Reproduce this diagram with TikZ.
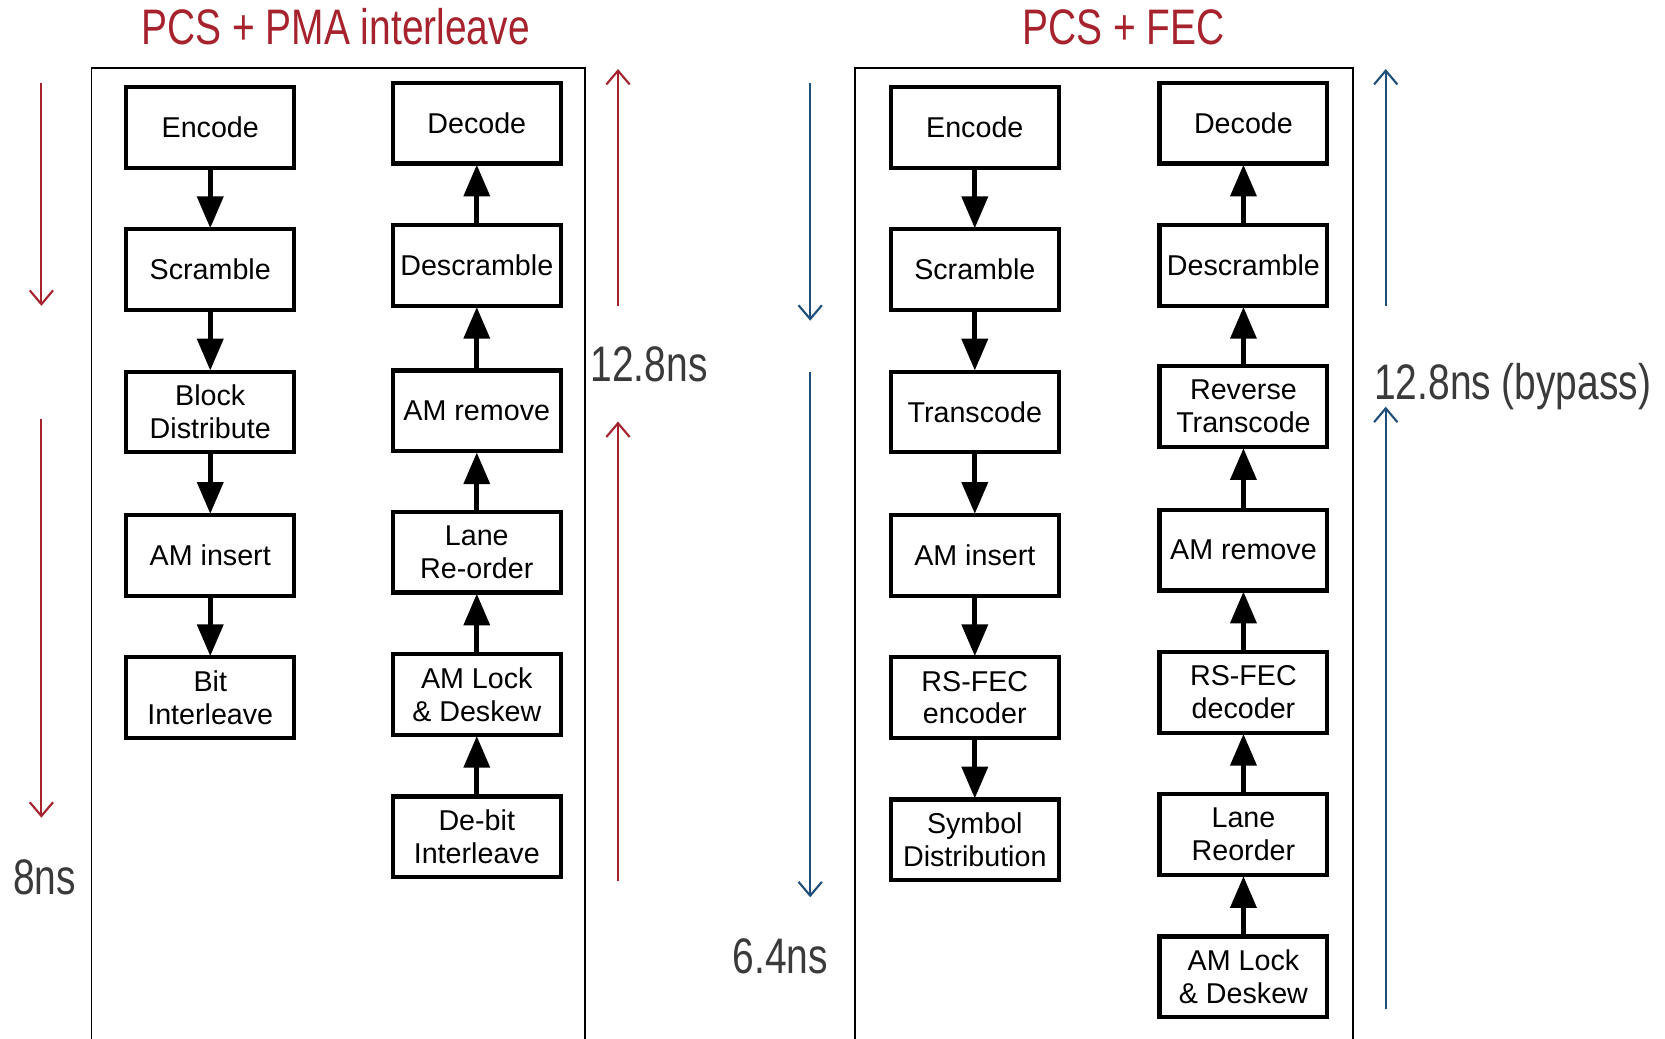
\documentclass[tikz,border=0pt]{standalone}
\usepackage{fontspec}
\setmainfont{Liberation Sans}
\newfontfamily\narrowfont[FakeStretch=0.78]{Liberation Sans}
\usetikzlibrary{arrows.meta}
\definecolor{latred}{RGB}{166,35,46}
\definecolor{latblue}{RGB}{31,78,121}
\definecolor{latgray}{RGB}{58,58,58}
\tikzset{
  blk/.style={draw=black, line width=4pt, fill=white, minimum width=158pt, minimum height=76pt,
    inner sep=0pt, align=center, font=\fontsize{27}{31}\selectfont},
  flow/.style={line width=5pt, -{Triangle[width=24pt,length=30pt]}, shorten >=-1pt},
  lat/.style={line width=2pt, -{Straight Barb[length=13pt,width=22pt,line width=2pt]}},
  ttl/.style={text=latred, inner sep=0pt, anchor=base, font=\narrowfont\fontsize{47}{50}\selectfont},
  lbl/.style={text=latgray, inner sep=0pt, anchor=base, font=\narrowfont\fontsize{47}{50}\selectfont},
  frm/.style={draw=black, line width=1.5pt}
}
\begin{document}
\begin{tikzpicture}[x=1pt, y=-1pt]
\useasboundingbox (0,0) rectangle (1568,978);
% ---------------- titles
\node[ttl] (t1) at (316,42) {PCS + PMA interleave};
\node[ttl] (t2) at (1058,42) {PCS + FEC};
% ---------------- frames
\draw[frm] (86,978) |- (551,64) -- (551,978);
\draw[frm] (805,978) |- (1274,64) -- (1274,978);
% ---------------- left panel, transmit column
\node[blk] (a1) at (198,120) {Encode};
\node[blk] (a2) at (198,254) {Scramble};
\node[blk] (a3) at (198,388) {Block\\Distribute};
\node[blk] (a4) at (198,523) {AM insert};
\node[blk] (a5) at (198,657) {Bit\\Interleave};
\draw[flow] (a1) -- (a2);
\draw[flow] (a2) -- (a3);
\draw[flow] (a3) -- (a4);
\draw[flow] (a4) -- (a5);
% ---------------- left panel, receive column
\node[blk] (b1) at (449,116) {Decode};
\node[blk] (b2) at (449,250) {Descramble};
\node[blk] (b3) at (449,387) {AM remove};
\node[blk] (b4) at (449,520) {Lane\\Re-order};
\node[blk] (b5) at (449,654) {AM Lock\\\& Deskew};
\node[blk] (b6) at (449,788) {De-bit\\Interleave};
\draw[flow] (b6) -- (b5);
\draw[flow] (b5) -- (b4);
\draw[flow] (b4) -- (b3);
\draw[flow] (b3) -- (b2);
\draw[flow] (b2) -- (b1);
% ---------------- right panel, transmit column
\node[blk] (c1) at (918,120) {Encode};
\node[blk] (c2) at (918,254) {Scramble};
\node[blk] (c3) at (918,388) {Transcode};
\node[blk] (c4) at (918,523) {AM insert};
\node[blk] (c5) at (918,657) {RS-FEC\\encoder};
\node[blk] (c6) at (918,791) {Symbol\\Distribution};
\draw[flow] (c1) -- (c2);
\draw[flow] (c2) -- (c3);
\draw[flow] (c3) -- (c4);
\draw[flow] (c4) -- (c5);
\draw[flow] (c5) -- (c6);
% ---------------- right panel, receive column
\node[blk] (d1) at (1171,116) {Decode};
\node[blk] (d2) at (1171,250) {Descramble};
\node[blk] (d3) at (1171,383) {Reverse\\Transcode};
\node[blk] (d4) at (1171,518) {AM remove};
\node[blk] (d5) at (1171,652) {RS-FEC\\decoder};
\node[blk] (d6) at (1171,786) {Lane\\Reorder};
\node[blk] (d7) at (1171,920) {AM Lock\\\& Deskew};
\draw[flow] (d7) -- (d6);
\draw[flow] (d6) -- (d5);
\draw[flow] (d5) -- (d4);
\draw[flow] (d4) -- (d3);
\draw[flow] (d3) -- (d2);
\draw[flow] (d2) -- (d1);
% ---------------- latency arrows
\coordinate (r1s) at (39,78);   \coordinate (r1e) at (39,288);
\coordinate (r2s) at (39,395);  \coordinate (r2e) at (39,770);
\coordinate (r3s) at (582,288); \coordinate (r3e) at (582,65);
\coordinate (r4s) at (582,830); \coordinate (r4e) at (582,397);
\draw[lat, draw=latred] (r1s) -- (r1e);
\draw[lat, draw=latred] (r2s) -- (r2e);
\draw[lat, draw=latred] (r3s) -- (r3e);
\draw[lat, draw=latred] (r4s) -- (r4e);
\coordinate (u1s) at (763,78);   \coordinate (u1e) at (763,302);
\coordinate (u2s) at (763,350);  \coordinate (u2e) at (763,845);
\coordinate (u3s) at (1305,288); \coordinate (u3e) at (1305,65);
\coordinate (u4s) at (1305,950); \coordinate (u4e) at (1305,383);
\draw[lat, draw=latblue] (u1s) -- (u1e);
\draw[lat, draw=latblue] (u2s) -- (u2e);
\draw[lat, draw=latblue] (u3s) -- (u3e);
\draw[lat, draw=latblue] (u4s) -- (u4e);
% ---------------- latency labels
\node[lbl] (l1) at (42,842) {8ns};
\node[lbl, anchor=base west] (l2) at (556,359) {12.8ns};
\node[lbl] (l3) at (735,917) {6.4ns};
\node[lbl, anchor=base west] (l4) at (1294,376) {12.8ns (bypass)};
\end{tikzpicture}
\end{document}
